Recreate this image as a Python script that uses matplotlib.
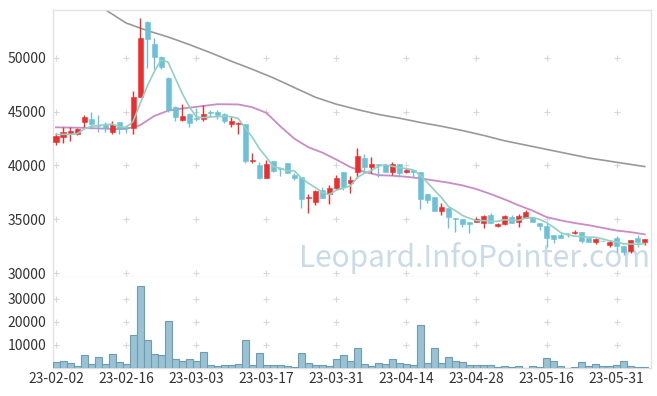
import matplotlib
matplotlib.use("Agg")
import matplotlib.pyplot as plt
import numpy as np

# ---------------- data ----------------
opens = [42200, 42650, 43000, 42930, 44050, 44330, 43700, 43740, 43150, 44020,
         43610, 43460, 46400, 53380, 51300, 50060, 48110, 45470, 44230, 44790,
         44420, 44330, 44940, 44980, 44790, 43890, 43830, 43830, 40420, 40050,
         38870, 40420, 39740, 40200, 39120, 38960, 36950, 36640, 37720, 37320,
         37880, 39370, 38340, 39430, 40670, 39890, 40140, 40050, 39370, 40140,
         39370, 39580, 39370, 37350, 37040, 35800, 36020, 35090, 35000, 34780,
         34780, 34620, 35400, 34410, 34560, 35240, 34780, 35090, 35240, 34620,
         34410, 33540, 33540, 33760, 33690, 33850, 33230, 32920, 33000, 32580,
         33230, 32550, 32070, 33230, 32860]
highs = [43000, 43600, 43600, 43450, 44670, 44950, 44670, 44080, 44140, 44080,
         43800, 46960, 53690, 53450, 51830, 50200, 48250, 45500, 45720, 44850,
         45320, 45630, 45160, 45160, 44850, 44480, 44000, 43900, 41130, 40300,
         40510, 40420, 39740, 40200, 39270, 38960, 37320, 37720, 37970, 38190,
         39120, 39370, 39030, 41600, 41070, 40760, 40140, 40050, 40300, 40140,
         39740, 39580, 39370, 37350, 37100, 36550, 36020, 35090, 35000, 34780,
         35240, 35400, 35550, 34620, 35400, 35400, 35490, 35860, 35240, 34620,
         34620, 33540, 33690, 33760, 34000, 33850, 33230, 33290, 33050, 33070,
         33450, 32550, 33100, 33540, 33140]
lows = [41950, 42050, 42300, 42850, 43550, 43370, 43120, 43120, 42930, 42930,
        43060, 42930, 46340, 49040, 48980, 49000, 45010, 44170, 44150, 43550,
        44170, 44170, 44540, 44300, 43920, 43550, 42900, 40200, 40200, 38750,
        38870, 39370, 39030, 39270, 38650, 36020, 35620, 36330, 37010, 36420,
        37720, 37720, 37410, 38810, 39270, 39270, 38960, 39430, 39120, 38960,
        39270, 38960, 35930, 36480, 35800, 35400, 34160, 33850, 34250, 33690,
        34780, 34160, 34620, 34310, 34470, 34620, 34310, 35090, 34780, 34000,
        32450, 32760, 33230, 33380, 33600, 32760, 32860, 32670, 32950, 32450,
        31990, 31680, 31900, 32450, 32610]
closes = [42750, 43100, 43200, 43400, 44510, 43860, 43650, 43490, 43740, 43370,
          43490, 46340, 51830, 51770, 50060, 49190, 45160, 44540, 44640, 43920,
          44360, 44790, 44890, 44730, 44140, 44140, 43960, 40450, 40510, 38870,
          40140, 39520, 39700, 39270, 38870, 36860, 37100, 37630, 37010, 37940,
          38870, 38030, 38650, 40920, 39890, 40140, 40020, 39430, 40140, 39340,
          39580, 39430, 36890, 36790, 35800, 36170, 35240, 35000, 34530, 34530,
          35030, 35310, 34620, 34530, 35310, 34690, 35310, 35710, 34780, 34410,
          33230, 33170, 33230, 33690, 33850, 33000, 32920, 33140, 32980, 32890,
          32520, 31990, 33100, 32860, 33140]
volumes = [2480, 2900, 2040, 730, 5550, 1900, 4670, 1600, 5840, 2480,
           1600, 14160, 35330, 12120, 5840, 5550, 20440, 3800, 2900, 3800,
           2900, 6700, 1170, 730, 1170, 1170, 1600, 12120, 1170, 6420,
           1170, 1170, 1170, 730, 290, 6420, 2040, 1170, 1170, 1020,
           3800, 5550, 2900, 8610, 1900, 730, 2040, 1600, 3800, 2040,
           1600, 1170, 18700, 2340, 8610, 2340, 4670, 2900, 2480, 1170,
           1170, 1170, 1170, 290, 730, 290, 730, 80, 730, 290,
           4240, 2900, 730, 60, 290, 2480, 730, 1600, 730, 730,
           1170, 2900, 730, 290, 290]
# closes of the four sessions before the first one (for the 5-day average)
prior_closes = [42970, 43210, 43150, 42280]

# moving averages (session index, value)
ma20_idx = [0, 4, 8, 10, 12, 14, 16, 18, 20, 23, 26, 28, 30, 32, 34, 36, 38, 40,
            42, 44, 46, 48, 50, 52, 54, 56, 58, 60, 62, 64, 66, 68, 70, 72, 74,
            76, 78, 80, 82, 84]
ma20_val = [43550, 43500, 43400, 43400, 43750, 44600, 45100, 45300, 45450, 45700,
            45680, 45420, 44900, 43650, 42500, 41700, 41200, 40550, 39850, 39400,
            39100, 39050, 38950, 38800, 38600, 38400, 38150, 37800, 37350, 36850,
            36300, 35800, 35200, 34900, 34650, 34450, 34200, 33950, 33800, 33600]
ma60_idx = [0, 4, 7, 10, 13, 16, 19, 22, 25, 28, 31, 34, 37, 40, 43, 46, 49, 52,
            55, 58, 61, 64, 67, 70, 73, 76, 79, 82, 84]
ma60_val = [56800, 55600, 54500, 53250, 52550, 51950, 51250, 50500, 49700, 48950,
            48150, 47250, 46350, 45700, 45200, 44750, 44400, 44000, 43650, 43250,
            42800, 42300, 41900, 41500, 41100, 40700, 40400, 40100, 39900]

tick_pos = [0, 10, 20, 30, 40, 50, 60, 70, 80]
tick_labels = ['23-02-02', '23-02-16', '23-03-03', '23-03-17', '23-03-31',
               '23-04-14', '23-04-28', '23-05-16', '23-05-31']
price_ticks = [30000, 35000, 40000, 45000, 50000]
vol_ticks = [10000, 20000, 30000]

# ---------------- styling ----------------
UP = '#ee2d2d'
DOWN = '#6cc1d8'
MA5_C = '#92d0c2'
MA20_C = '#c98cc6'
MA60_C = '#999999'
GRID = '#d8d8d8'
SPINE = '#e2e2e2'
TXT = '#333333'
FONT = ['Noto Sans CJK KR', 'DejaVu Sans']
plt.rcParams['font.family'] = FONT

W, H = 657, 396
fig = plt.figure(figsize=(W / 100, H / 100), dpi=100)
fig.patch.set_facecolor('white')

left, right = 53 / W, 651 / W
ax = fig.add_axes([left, 1 - 277 / H, right - left, (277 - 10) / H])
axv = fig.add_axes([left, 1 - 368 / H, right - left, (368 - 277) / H], sharex=ax)

n = len(closes)
x = np.arange(n)
o = np.array(opens, float); c = np.array(closes, float)
hi = np.array(highs, float); lo = np.array(lows, float)
up = c >= o
cols = np.where(up, UP, DOWN)

# grid plus markers
def plus_grid(a, yt):
    gx, gy = np.meshgrid(tick_pos, yt)
    a.scatter(gx.ravel(), gy.ravel(), marker='+', s=22, color=GRID, lw=0.8, zorder=0)

plus_grid(ax, price_ticks)
plus_grid(axv, vol_ticks)

# watermark (fit to ~352 px wide, right edge at x=650)
wm = ax.text(650 / W, 1 - 267 / H, 'Leopard.InfoPointer.com', transform=fig.transFigure,
             ha='right', va='baseline', fontsize=24, color='#c9dbe6',
             family=['Noto Sans CJK KR', 'DejaVu Sans'], zorder=1)
r = fig.canvas.get_renderer()
wpx = wm.get_window_extent(renderer=r).width
wm.set_fontsize(24 * 352 / wpx)

# candles
ax.vlines(x, lo, hi, colors=cols, lw=1.0, zorder=3)
body_b = np.minimum(o, c)
body_h = np.maximum(np.abs(c - o), 40)
ax.bar(x, body_h, bottom=body_b, width=0.72, color=cols, edgecolor=cols,
       lw=0.4, zorder=4)

# moving averages
allc = np.array(prior_closes + closes, float)
ma5 = np.convolve(allc, np.ones(5) / 5, mode='valid')
ax.plot(x, ma5, color=MA5_C, lw=1.2, zorder=5)
ax.plot(ma20_idx, ma20_val, color=MA20_C, lw=1.3, zorder=2)
ax.plot(ma60_idx, ma60_val, color=MA60_C, lw=1.2, zorder=2)

ax.set_ylim(29630, 54460)
ax.set_xlim(-0.43, 84.9)
ax.set_yticks(price_ticks)
ax.set_yticklabels([str(v) for v in price_ticks])
ax.tick_params(axis='y', length=0, labelsize=10, colors=TXT, pad=5)
ax.tick_params(axis='x', length=0, labelbottom=False)

# volume
axv.bar(x, volumes, width=1.0, color='#9ac2d3', edgecolor='#6d9db3', lw=0.8, zorder=3)
axv.set_ylim(0, 39300)
axv.set_yticks(vol_ticks)
axv.set_yticklabels([str(v) for v in vol_ticks])
axv.set_xticks(tick_pos)
axv.set_xticklabels(tick_labels)
axv.tick_params(axis='y', length=0, labelsize=10, colors=TXT, pad=5)
axv.tick_params(axis='x', length=0, labelsize=10, colors=TXT, pad=3)

for a in (ax, axv):
    a.set_facecolor('white')
    for s in a.spines.values():
        s.set_color(SPINE)
        s.set_linewidth(1.0)
ax.spines['bottom'].set_color('#e6e6e6')
axv.spines['top'].set_visible(False)
axv.spines['bottom'].set_color('#dddddd')

fig.savefig('out.png', dpi=100, facecolor='white')
